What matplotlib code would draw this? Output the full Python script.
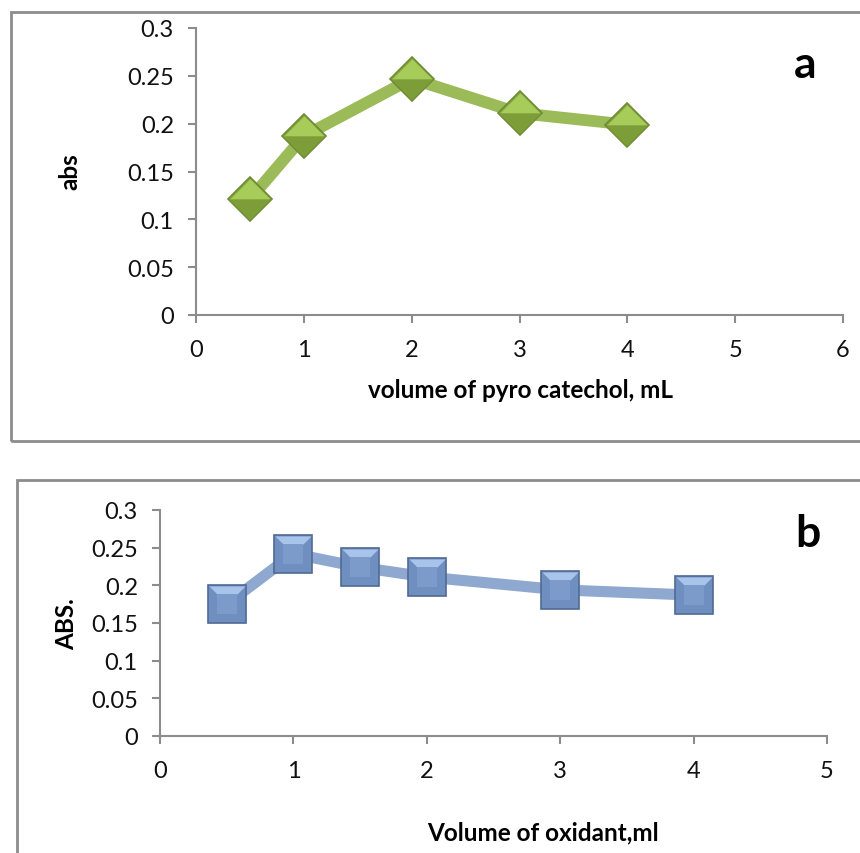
import matplotlib
matplotlib.use('Agg')
import matplotlib.pyplot as plt
from matplotlib.patches import Rectangle
from matplotlib.path import Path

# panel a: pyrocatechol volume
pyro_ml = [0.5, 1, 2, 3, 4]
pyro_abs = [0.121, 0.187, 0.247, 0.211, 0.199]

# panel b: oxidant volume
oxid_ml = [0.5, 1, 1.5, 2, 3, 4]
oxid_abs = [0.175, 0.242, 0.224, 0.211, 0.194, 0.187]

y_ticks = [0, 0.05, 0.1, 0.15, 0.2, 0.25, 0.3]
y_tick_labels = ['0', '0.05', '0.1', '0.15', '0.2', '0.25', '0.3']

plt.rcParams['font.family'] = ['Lato', 'DejaVu Sans']
AXIS_GREY = '#8c8c8c'
W, H = 860, 854

# half-shapes to fake the bevelled look of the Excel markers
diamond_top = Path([(-1, 0), (0, 1), (1, 0), (-1, 0)])
diamond_bot = Path([(-1, 0), (0, -1), (1, 0), (-1, 0)])
square_top = Path([(-1, 1), (1, 1), (0.55, 0.55), (-0.55, 0.55), (-1, 1)])
square_in = Path([(-0.55, -0.55), (0.55, -0.55), (0.55, 0.55), (-0.55, 0.55), (-0.55, -0.55)])


def style_axes(ax, xmax):
    for side in ['top', 'right']:
        ax.spines[side].set_visible(False)
    for side in ['left', 'bottom']:
        ax.spines[side].set_color(AXIS_GREY)
        ax.spines[side].set_linewidth(1.5)
    ax.set_ylim(0, 0.3)
    ax.set_xlim(0, xmax)
    ax.set_yticks(y_ticks)
    ax.set_yticklabels(y_tick_labels)
    ax.set_xticks(range(0, xmax + 1))
    ax.tick_params(axis='both', colors=AXIS_GREY, labelcolor='#111111',
                   labelsize=17, length=6, width=1.5, direction='out')
    ax.tick_params(axis='x', pad=11)
    ax.tick_params(axis='y', pad=10)
    ax.patch.set_alpha(0)


def px_text(x, y, s, **kw):
    # place text by pixel centre measured from the top-left corner
    fig.text(x / W, 1 - y / H, s, ha='center', va='center',
             fontweight='bold', **kw)


fig = plt.figure(figsize=(8.6, 8.54), dpi=100)

# chart area borders
fig.patches.append(Rectangle((11 / W, 1 - 442 / H), 1.0, 429 / H,
                             transform=fig.transFigure, fill=False,
                             edgecolor=AXIS_GREY, linewidth=2))
fig.patches.append(Rectangle((17 / W, -0.1), 1.0, 0.1 + 1 - 481 / H,
                             transform=fig.transFigure, fill=False,
                             edgecolor=AXIS_GREY, linewidth=2))

# --- panel a ---
ax1 = fig.add_axes([196 / W, 1 - 316 / H, 647 / W, 287 / H])
style_axes(ax1, 6)
ax1.plot(pyro_ml, pyro_abs, color='#9bbb59', linewidth=8.5, zorder=2,
         solid_capstyle='butt')
ax1.plot(pyro_ml, pyro_abs, linestyle='none', marker='D', markersize=22,
         markerfacecolor='#86a83e', markeredgecolor='#6e8c33',
         markeredgewidth=1.2, zorder=3)
ax1.plot(pyro_ml, pyro_abs, linestyle='none', marker=diamond_top,
         markersize=29, markerfacecolor='#a8cc5a', markeredgewidth=0, zorder=4)
ax1.plot(pyro_ml, pyro_abs, linestyle='none', marker=diamond_bot,
         markersize=29, markerfacecolor='#7d9d38', markeredgewidth=0, zorder=4)
px_text(520, 391, 'volume of pyro catechol, mL', fontsize=17.5)
px_text(70, 172, 'abs', fontsize=17.5, rotation=90)
px_text(805, 65, 'a', fontsize=32)

# --- panel b ---
ax2 = fig.add_axes([160 / W, 1 - 737 / H, 667 / W, 226 / H])
style_axes(ax2, 5)
ax2.plot(oxid_ml, oxid_abs, color='#8ea8cf', linewidth=8, zorder=2,
         solid_capstyle='butt')
ax2.plot(oxid_ml, oxid_abs, linestyle='none', marker='s', markersize=27,
         markerfacecolor='#6f8fc0', markeredgecolor='#4f6a94',
         markeredgewidth=1.2, zorder=3)
ax2.plot(oxid_ml, oxid_abs, linestyle='none', marker=square_top,
         markersize=26, markerfacecolor='#a9c4ea', markeredgewidth=0, zorder=4)
ax2.plot(oxid_ml, oxid_abs, linestyle='none', marker=square_in,
         markersize=14.5, markerfacecolor='#7c9bcb', markeredgewidth=0, zorder=4)
px_text(543, 833, 'Volume of oxidant,ml', fontsize=17.5)
px_text(67, 624, 'ABS.', fontsize=17.5, rotation=90)
px_text(808, 534, 'b', fontsize=32)

fig.savefig('out.png', dpi=100)
